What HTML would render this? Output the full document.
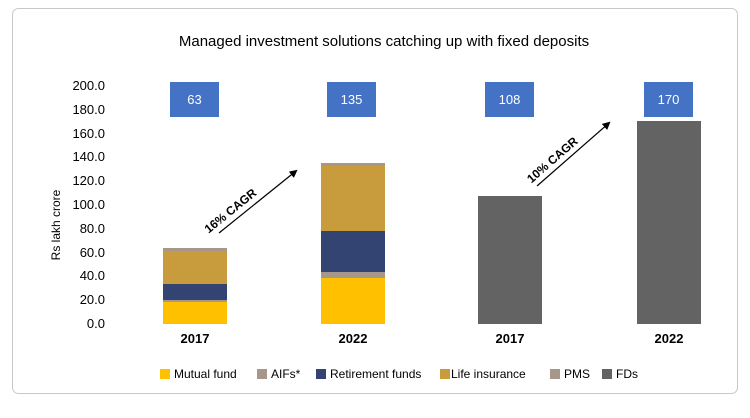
<!DOCTYPE html>
<html><head><style>
body{margin:0;background:#fff;font-family:"Liberation Sans",sans-serif;}
</style></head><body>
<svg width="750" height="413" xmlns="http://www.w3.org/2000/svg" font-family="Liberation Sans, sans-serif">
<rect x="12.5" y="8.5" width="725" height="385" rx="6" fill="#fff" stroke="#c8c8c8"/>
<text x="384" y="46" text-anchor="middle" font-size="15" fill="#000">Managed investment solutions catching up with fixed deposits</text>
<g font-size="13" fill="#000" text-anchor="end">
<text x="105" y="328">0.0</text><text x="105" y="304">20.0</text><text x="105" y="280">40.0</text>
<text x="105" y="257">60.0</text><text x="105" y="233">80.0</text><text x="105" y="209">100.0</text>
<text x="105" y="185">120.0</text><text x="105" y="161">140.0</text><text x="105" y="138">160.0</text>
<text x="105" y="114">180.0</text><text x="105" y="90">200.0</text>
</g>
<text transform="translate(60,225) rotate(-90)" text-anchor="middle" font-size="12">Rs lakh crore</text>
<rect x="163" y="302" width="64" height="22" fill="#ffc000"/>
<rect x="163" y="300" width="64" height="2" fill="#a5978a"/>
<rect x="163" y="284" width="64" height="16" fill="#334472"/>
<rect x="163" y="251" width="64" height="33" fill="#c89b3c"/>
<rect x="163" y="248" width="64" height="3" fill="#a5978a"/>
<rect x="321" y="278" width="64" height="46" fill="#ffc000"/>
<rect x="321" y="272" width="64" height="6" fill="#a5978a"/>
<rect x="321" y="231" width="64" height="41" fill="#334472"/>
<rect x="321" y="166" width="64" height="65" fill="#c89b3c"/>
<rect x="321" y="163" width="64" height="3" fill="#a5978a"/>
<rect x="478" y="196" width="64" height="128" fill="#636363"/>
<rect x="637" y="121" width="64" height="203" fill="#636363"/>
<g fill="#4472c4">
<rect x="170" y="82" width="49" height="35"/><rect x="327" y="82" width="49" height="35"/>
<rect x="485" y="82" width="49" height="35"/><rect x="644" y="82" width="49" height="35"/>
</g>
<g fill="#fff" font-size="13" text-anchor="middle">
<text x="194.5" y="104">63</text><text x="351.5" y="104">135</text>
<text x="509.5" y="104">108</text><text x="668.5" y="104">170</text>
</g>
<g font-size="13" font-weight="bold" text-anchor="middle">
<text x="195" y="343">2017</text><text x="353" y="343">2022</text>
<text x="510" y="343">2017</text><text x="669" y="343">2022</text>
</g>
<defs><marker id="a" markerWidth="8" markerHeight="8" refX="6" refY="4" orient="auto" markerUnits="userSpaceOnUse" viewBox="0 0 8 8"><path d="M0,0 L8,4 L0,8z" fill="#000"/></marker></defs>
<line x1="219" y1="233" x2="296" y2="171" stroke="#000" stroke-width="1.2" marker-end="url(#a)"/>
<line x1="537" y1="186" x2="609" y2="123" stroke="#000" stroke-width="1.2" marker-end="url(#a)"/>
<text transform="translate(233,214) rotate(-39)" text-anchor="middle" font-size="12" font-weight="bold">16% CAGR</text>
<text transform="translate(555,163) rotate(-41)" text-anchor="middle" font-size="12" font-weight="bold">10% CAGR</text>
<g font-size="12">
<rect x="160" y="369" width="10" height="10" fill="#ffc000"/><text x="174" y="378">Mutual fund</text>
<rect x="257" y="369" width="10" height="10" fill="#a5978a"/><text x="271" y="378">AIFs*</text>
<rect x="316" y="369" width="10" height="10" fill="#334472"/><text x="330" y="378">Retirement funds</text>
<rect x="440" y="369" width="10" height="10" fill="#c89b3c"/><text x="451" y="378">Life insurance</text>
<rect x="550" y="369" width="10" height="10" fill="#a5978a"/><text x="564" y="378">PMS</text>
<rect x="602" y="369" width="10" height="10" fill="#636363"/><text x="616" y="378">FDs</text>
</g>
</svg>
</body></html>
